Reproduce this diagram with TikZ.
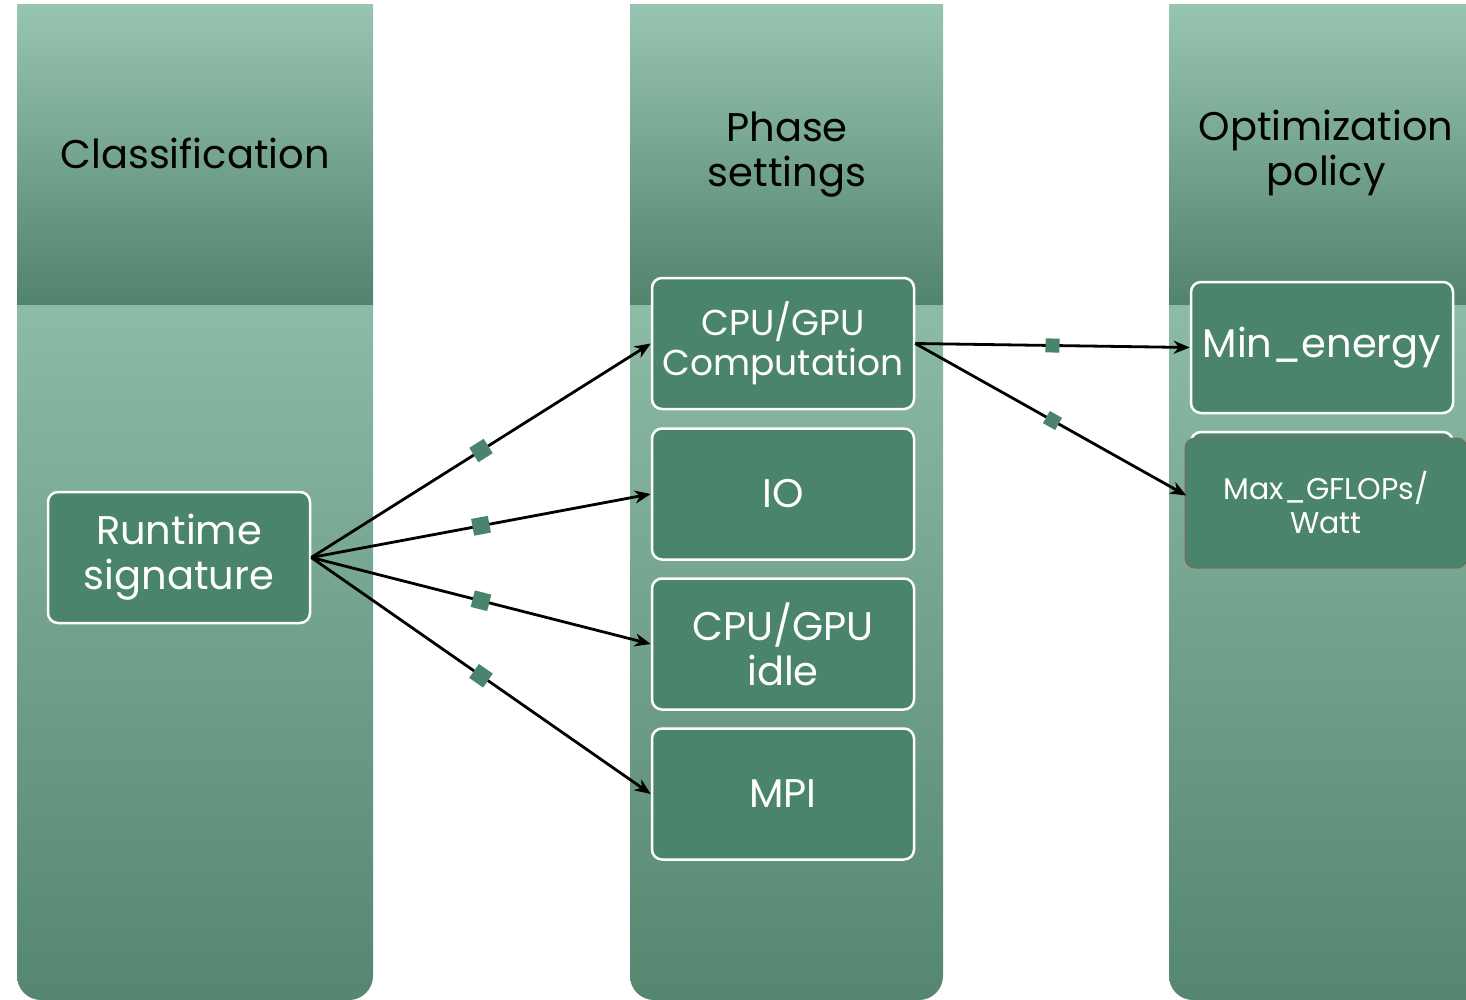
\documentclass[tikz,border=0pt]{standalone}
\usepackage{fontspec}
\setmainfont{Poppins}
\usetikzlibrary{arrows.meta}
\definecolor{hdtop}{HTML}{98C5B2}
\definecolor{hdbot}{HTML}{52836D}
\definecolor{bdtop}{HTML}{8CBBA6}
\definecolor{bdbot}{HTML}{558670}
\definecolor{boxfill}{HTML}{4A846C}
\definecolor{brownedge}{HTML}{7D6B55}
\tikzset{
  x=1pt,y=1pt,
  stagebox/.style={draw=white, line width=2.5pt, fill=boxfill, rounded corners=10pt,
    minimum width=262pt, minimum height=131pt, inner sep=0pt, text=white, align=center,
    font=\fontsize{40}{45}\selectfont},
  headtext/.style={text=black, align=center, font=\fontsize{40}{45}\selectfont},
  conn/.style={line width=2.8pt, -{Stealth[length=16pt,width=13pt,inset=5pt]}},
  midsq/.style={fill=boxfill, minimum size=17pt, inner sep=0pt, sloped, pos=0.5, draw=none},
  midsqs/.style={fill=boxfill, minimum size=14pt, inner sep=0pt, sloped, pos=0.5, draw=none}
}
\begin{document}
\begin{tikzpicture}
\useasboundingbox (0,0) rectangle (1466,-1000);
\clip (0,0) rectangle (1466,-1000);
% columns
\foreach \xa/\xb in {17/373, 630/943, 1169/1500}{
  \shade[top color=hdtop, bottom color=hdbot] (\xa,-5) rectangle (\xb,-305);
  \shade[top color=bdtop, bottom color=bdbot]
    (\xa,-305) [rounded corners=24pt] -- (\xa,-1000) -- (\xb,-1000) [sharp corners] -- (\xb,-305) -- cycle;
}
% headers
\node[headtext] (h1) at (195,-153) {Classification};
\node[headtext] (h2) at (787,-155) {Phase\\settings};
\node[headtext] (h3) at (1326,-153) {Optimization\\policy};
% boxes
\node[stagebox] (rs) at (179,-557.5) {Runtime\\signature};
\node[stagebox, font=\fontsize{36}{40}\selectfont] (comp) at (783,-343.5) {CPU/GPU\\Computation};
\node[stagebox] (io) at (783,-494) {IO};
\node[stagebox] (idle) at (783,-644) {CPU/GPU\\idle};
\node[stagebox] (mpi) at (783,-794) {MPI};
\node[stagebox] (minen) at (1322,-347.5) {Min\_energy};
\node[stagebox] (maxbg) at (1322,-497.5) {};
\node[stagebox, draw=brownedge, line width=1pt, minimum width=282pt, minimum height=130pt,
  font=\fontsize{30}{34}\selectfont] (maxg) at (1326,-503) {Max\_GFLOPs/\\Watt};
% connectors
\draw[conn] (rs.east) -- node[midsq]{} (comp.west);
\draw[conn] (rs.east) -- node[midsq]{} (io.west);
\draw[conn] (rs.east) -- node[midsq]{} (idle.west);
\draw[conn] (rs.east) -- node[midsq]{} (mpi.west);
\draw[conn] (comp.east) -- node[midsqs]{} (minen.west);
\draw[conn, shorten >=4pt] (comp.east) -- node[midsqs]{} (maxbg.west);
\end{tikzpicture}
\end{document}
